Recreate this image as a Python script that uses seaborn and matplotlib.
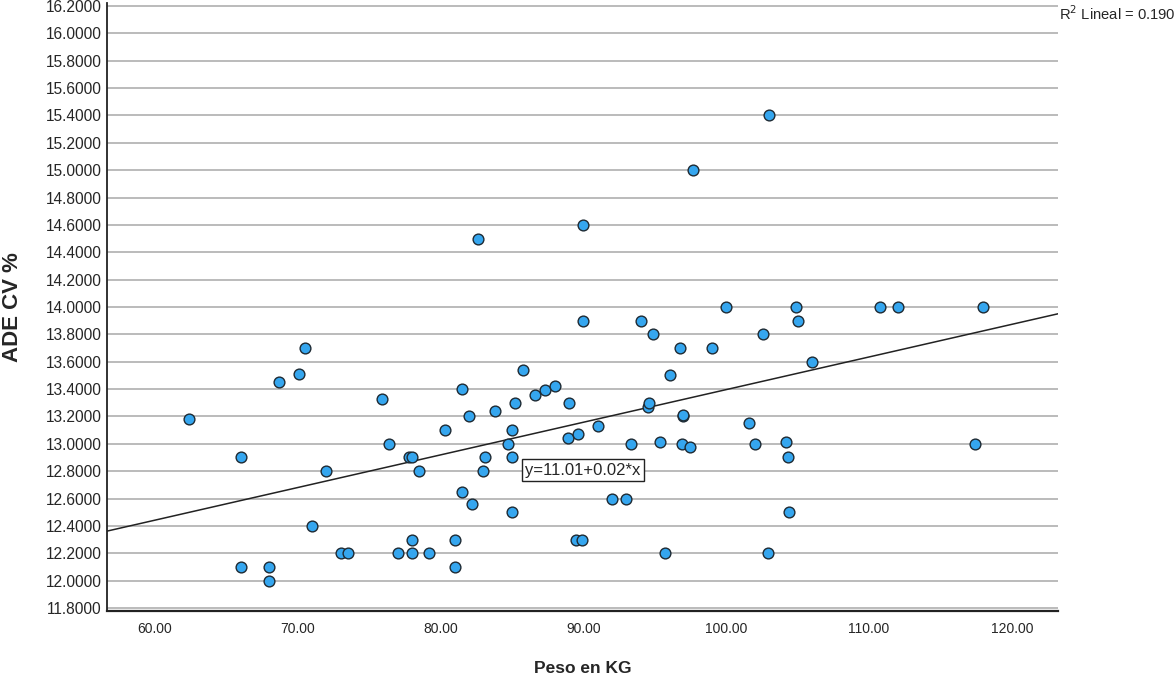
import matplotlib
matplotlib.use("Agg")
import matplotlib.pyplot as plt
import seaborn as sns
import pandas as pd

# Weight (kg) and ADE CV %
peso = [62.4, 66.0, 66.0, 68.0, 68.0, 68.7, 70.1, 70.5, 71.0, 72.0,
        73.0, 73.5, 75.9, 76.4, 77.0, 77.8, 78.0, 78.0, 78.0, 78.5,
        79.2, 80.3, 81.0, 81.0, 81.5, 81.5, 82.0, 82.2, 82.6, 83.0,
        83.1, 83.8, 84.7, 85.0, 85.0, 85.0, 85.2, 85.8, 86.6, 87.3,
        88.0, 88.9, 89.0, 89.5, 89.6, 89.9, 90.0, 90.0, 91.0, 92.0,
        93.0, 93.3, 94.0, 94.5, 94.6, 94.9, 95.4, 95.7, 96.1, 96.8,
        96.9, 96.95, 97.0, 97.5, 97.7, 99.0, 100.0, 101.6, 102.0, 102.6,
        102.9, 103.0, 104.2, 104.3, 104.4, 104.9, 105.0, 106.0, 110.8, 112.0,
        117.4, 118.0]
ade_cv = [13.18, 12.90, 12.10, 12.10, 12.00, 13.45, 13.51, 13.70, 12.40, 12.80,
          12.20, 12.20, 13.33, 13.00, 12.20, 12.90, 12.90, 12.30, 12.20, 12.80,
          12.20, 13.10, 12.30, 12.10, 13.40, 12.65, 13.20, 12.56, 14.50, 12.80,
          12.90, 13.24, 13.00, 13.10, 12.90, 12.50, 13.30, 13.54, 13.36, 13.39,
          13.42, 13.04, 13.30, 12.30, 13.07, 12.30, 14.60, 13.90, 13.13, 12.60,
          12.60, 13.00, 13.90, 13.27, 13.30, 13.80, 13.01, 12.20, 13.50, 13.70,
          13.00, 13.20, 13.21, 12.98, 15.00, 13.70, 14.00, 13.15, 13.00, 13.80,
          12.20, 15.40, 13.01, 12.90, 12.50, 14.00, 13.90, 13.60, 14.00, 14.00,
          13.00, 14.00]

x_ticks = [60, 70, 80, 90, 100, 110, 120]
y_ticks = [11.8 + 0.2 * i for i in range(23)]

df = pd.DataFrame({"Peso en KG": peso, "ADE CV %": ade_cv})

sns.set_style("white")
plt.rcParams["font.family"] = ["Liberation Sans", "DejaVu Sans"]

fig = plt.figure(figsize=(11.76, 6.84), dpi=100)
ax = fig.add_axes([0.091, 0.1067, 0.8087, 0.889])

ax.set_xlim(56.64, 123.24)
ax.set_ylim(11.778, 16.222)

# horizontal grid
for yv in y_ticks:
    ax.axhline(yv, color="#bbbbbb", lw=1.4, zorder=0)

sns.regplot(data=df, x="Peso en KG", y="ADE CV %", scatter=False, ci=None,
            truncate=False, color="#222222", line_kws={"lw": 1.1}, ax=ax)
sns.scatterplot(data=df, x="Peso en KG", y="ADE CV %", s=60, color="#35a6ef",
                edgecolor="#1e2a33", linewidth=1.0, ax=ax, zorder=3)

ax.set_xticks(x_ticks)
ax.set_xticklabels([f"{v:.2f}" for v in x_ticks], fontsize=10)
ax.set_yticks(y_ticks)
ax.set_yticklabels([f"{v:.4f}" for v in y_ticks], fontsize=11.2)
ax.tick_params(axis="x", length=0, pad=8)
ax.tick_params(axis="y", length=0, pad=4)

for side in ["top", "right"]:
    ax.spines[side].set_visible(False)
ax.spines["left"].set_color("#222222")
ax.spines["left"].set_linewidth(1.3)
ax.spines["bottom"].set_color("#222222")
ax.spines["bottom"].set_linewidth(1.6)

ax.set_xlabel("Peso en KG", fontsize=12.5, fontweight="bold")
ax.set_ylabel("ADE CV %", fontsize=16, fontweight="bold")
ax.xaxis.set_label_coords(0.5, -0.083)
ax.yaxis.set_label_coords(-0.088, 0.5)

ax.text(89.97, 12.808, "y=11.01+0.02*x", fontsize=12, ha="center", va="center",
        bbox=dict(boxstyle="square,pad=0.2", fc="white", ec="#222222", lw=1.0),
        zorder=4)

fig.text(0.9005, 0.993, "R$^2$ Lineal = 0.190", fontsize=10.6, ha="left", va="top")

plt.savefig("out.png", dpi=100)
plt.close()
